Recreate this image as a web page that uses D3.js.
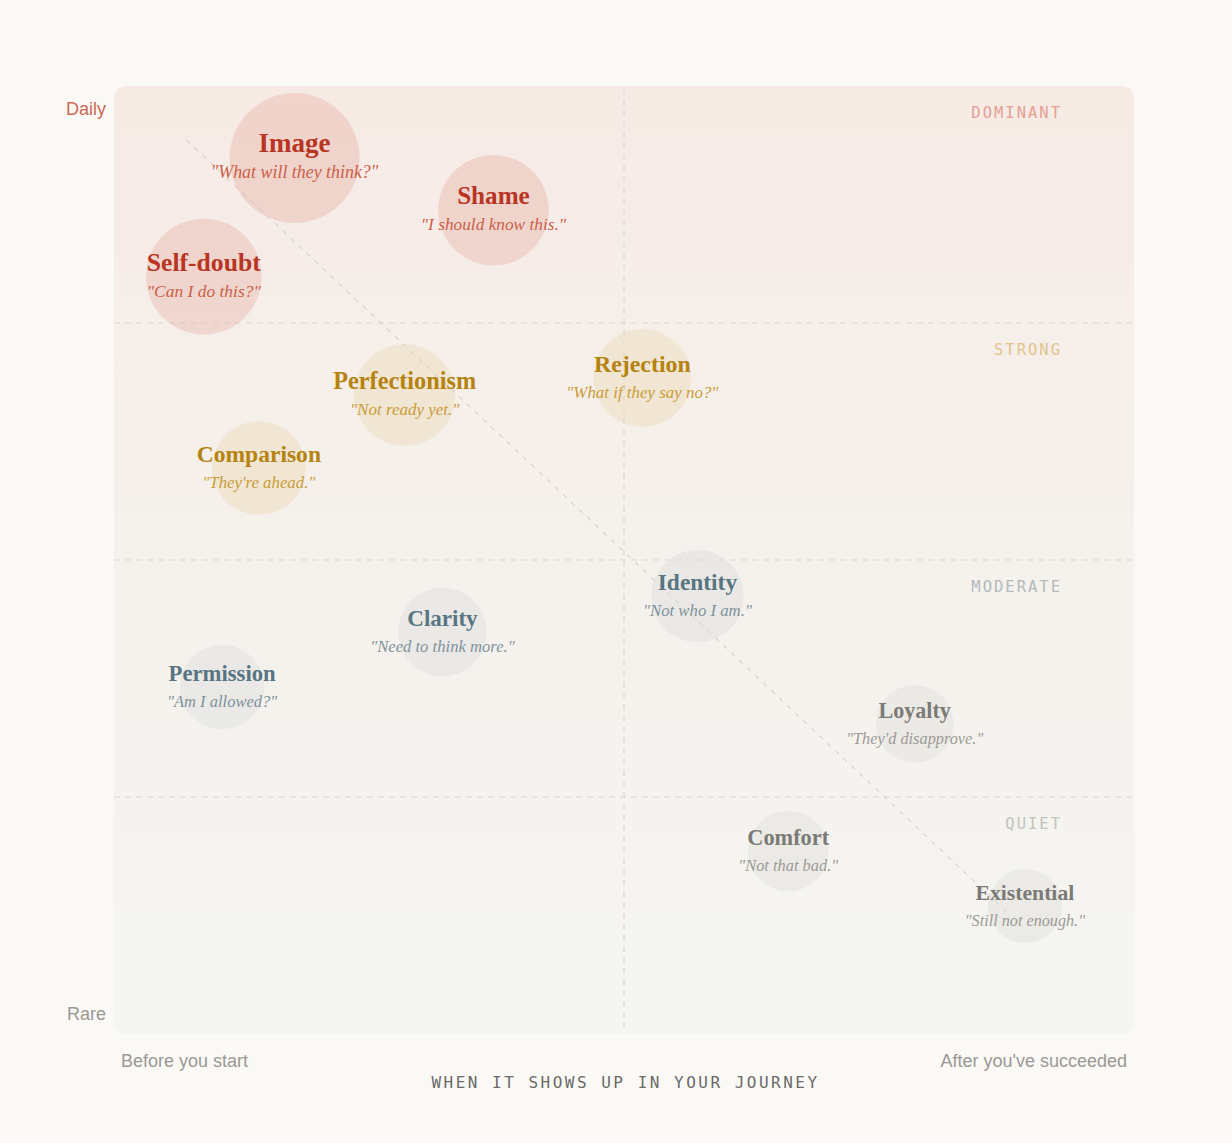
<!DOCTYPE html>
<html lang="en">

<head>
    <meta charset="UTF-8">
    <title>Fears along the journey</title>
    <style>
        * {
            margin: 0;
            padding: 0
        }

        body {
            background: #faf9f6;
        }
    </style>
</head>

<body>
    <div id="main"></div>
    <script src="https://d3js.org/d3.v7.min.js"></script>
    <script>
        // data
        const names = ['Image', 'Shame', 'Self-doubt', 'Perfectionism', 'Rejection', 'Comparison',
            'Identity', 'Clarity', 'Permission', 'Loyalty', 'Comfort', 'Existential'];
        const quotes = ['What will they think?', 'I should know this.', 'Can I do this?', 'Not ready yet.',
            'What if they say no?', "They're ahead.", 'Not who I am.', 'Need to think more.',
            'Am I allowed?', "They'd disapprove.", 'Not that bad.', 'Still not enough.'];
        // when it shows up (0 = before you start, 100 = after you've succeeded)
        const journey = [17.7, 37.2, 8.8, 28.5, 51.8, 14.2, 57.2, 32.2, 10.6, 78.5, 66.1, 89.3];
        // how often (0 = rare, 100 = daily)
        const frequency = [92.4, 86.9, 79.9, 67.4, 69.2, 59.7, 46.2, 42.4, 36.6, 32.7, 19.3, 13.5];
        const intensity = [10, 8.5, 8.9, 7.8, 7.5, 7.2, 7.1, 6.8, 6.5, 6.0, 6.2, 5.7];
        const tiers = ['dominant', 'dominant', 'dominant', 'strong', 'strong', 'strong',
            'moderate', 'moderate', 'moderate', 'quiet', 'quiet', 'quiet'];
        const bandLabels = ['DOMINANT', 'STRONG', 'MODERATE', 'QUIET'];
        const bandEdges = [100, 75, 50, 25];
        const trend = [[7.1, 94.3], [87.5, 12.9]];

        const W = 1232, H = 1143;
        const plotLeft = 114, plotRight = 1134, plotTop = 86, plotBottom = 1034;

        const palette = {
            dominant: { title: '#b83524', quote: '#cb5f48', fill: '#e7b2a6', label: '#e2a193' },
            strong: { title: '#b5830f', quote: '#c99d38', fill: '#ecd6b2', label: '#dfc48e' },
            moderate: { title: '#587583', quote: '#7f929c', fill: '#d9dcdc', label: '#b3babd' },
            quiet: { title: '#7b7a76', quote: '#9c9a96', fill: '#dcdbd8', label: '#c2c1bd' }
        };

        const data = names.map((n, i) => ({
            name: n, quote: quotes[i], x: journey[i], y: frequency[i], v: intensity[i], tier: tiers[i]
        }));

        let x = d3.scaleLinear().domain([0, 100]).range([plotLeft, plotRight]),
            y = d3.scaleLinear().domain([0, 100]).range([plotBottom, plotTop]),
            r = d3.scaleLinear().domain([0, 10]).range([0, 65]),
            titleSize = d3.scaleLinear().domain([37, 65]).range([21.7, 27]),
            quoteSize = d3.scaleLinear().domain([37, 65]).range([16.2, 17.9]);

        let svg = d3.select('#main').append('svg')
            .attr('width', W)
            .attr('height', H)
            .style('display', 'block')
            .style('background-color', '#faf9f6');

        let grad = svg.append('defs').append('linearGradient')
            .attr('id', 'plot-bg')
            .attr('x1', '0%').attr('y1', '0%')
            .attr('x2', '0%').attr('y2', '100%');
        [['0%', '#f7eae5'], ['25%', '#f6eee9'], ['50%', '#f5f1ec'], ['75%', '#f5f3ef'], ['100%', '#f5f5f1']]
            .forEach(s => grad.append('stop').attr('offset', s[0]).style('stop-color', s[1]));

        svg.append('rect')
            .attr('x', plotLeft).attr('y', plotTop)
            .attr('width', plotRight - plotLeft).attr('height', plotBottom - plotTop)
            .attr('rx', 12)
            .style('fill', 'url(#plot-bg)');

        // band dividers
        svg.selectAll('line.band')
            .data([75, 50, 25])
            .enter()
            .append('line')
            .classed('band', true)
            .attr('x1', plotLeft).attr('x2', plotRight)
            .attr('y1', d => y(d)).attr('y2', d => y(d))
            .style('stroke', '#dcd8d3')
            .style('stroke-width', 1.2)
            .style('stroke-dasharray', '6,5');

        // middle of the journey
        svg.append('line')
            .attr('x1', x(50)).attr('x2', x(50))
            .attr('y1', y(100) + 2).attr('y2', y(0) - 6)
            .style('stroke', '#dcd8d3')
            .style('stroke-width', 1.2)
            .style('stroke-dasharray', '6,5');

        svg.selectAll('text.band')
            .data(bandLabels)
            .enter()
            .append('text')
            .classed('band', true)
            .attr('x', 1062)
            .attr('y', (d, i) => y(bandEdges[i]) + 32)
            .attr('text-anchor', 'end')
            .style('font-family', '"DejaVu Sans Mono", monospace')
            .style('font-size', '15.5px')
            .style('letter-spacing', '2px')
            .style('fill', (d, i) => palette[tiers[i * 3]].label)
            .text(d => d);

        // trend line
        svg.append('path')
            .attr('d', d3.line().x(d => x(d[0])).y(d => y(d[1]))(trend))
            .style('fill', 'none')
            .style('stroke', '#c9c4be')
            .style('stroke-width', 1)
            .style('stroke-dasharray', '5,6');

        let g = svg.selectAll('g.fear')
            .data(data)
            .enter()
            .append('g')
            .classed('fear', true)
            .attr('transform', d => `translate(${x(d.x)},${y(d.y)})`);

        g.append('circle')
            .attr('r', d => r(d.v))
            .style('fill', d => palette[d.tier].fill)
            .style('fill-opacity', 0.4);

        g.append('text')
            .attr('y', -6)
            .attr('text-anchor', 'middle')
            .style('font-family', '"Liberation Serif", "Times New Roman", serif')
            .style('font-weight', 'bold')
            .style('font-size', d => titleSize(r(d.v)) + 'px')
            .style('fill', d => palette[d.tier].title)
            .text(d => d.name);

        g.append('text')
            .attr('y', 20)
            .attr('text-anchor', 'middle')
            .style('font-family', '"Liberation Serif", "Times New Roman", serif')
            .style('font-style', 'italic')
            .style('font-size', d => quoteSize(r(d.v)) + 'px')
            .style('fill', d => palette[d.tier].quote)
            .text(d => '"' + d.quote + '"');

        // axis words
        const sans = '"Liberation Sans", Arial, sans-serif';
        svg.append('text')
            .attr('x', 106).attr('y', 115)
            .attr('text-anchor', 'end')
            .style('font-family', sans).style('font-size', '18px')
            .style('fill', '#cc6a55')
            .text('Daily');
        svg.append('text')
            .attr('x', 106).attr('y', 1020)
            .attr('text-anchor', 'end')
            .style('font-family', sans).style('font-size', '18px')
            .style('fill', '#9a9894')
            .text('Rare');
        svg.append('text')
            .attr('x', 121).attr('y', 1067)
            .style('font-family', sans).style('font-size', '18px')
            .style('fill', '#9a9894')
            .text('Before you start');
        svg.append('text')
            .attr('x', 1127).attr('y', 1067)
            .attr('text-anchor', 'end')
            .style('font-family', sans).style('font-size', '18px')
            .style('fill', '#9a9894')
            .text("After you've succeeded");
        svg.append('text')
            .attr('x', x(50) + 1.5).attr('y', 1088)
            .attr('text-anchor', 'middle')
            .style('font-family', '"DejaVu Sans Mono", monospace')
            .style('font-size', '16px')
            .style('letter-spacing', '2.5px')
            .style('fill', '#6b6a67')
            .text('WHEN IT SHOWS UP IN YOUR JOURNEY');
    </script>
</body>

</html>
